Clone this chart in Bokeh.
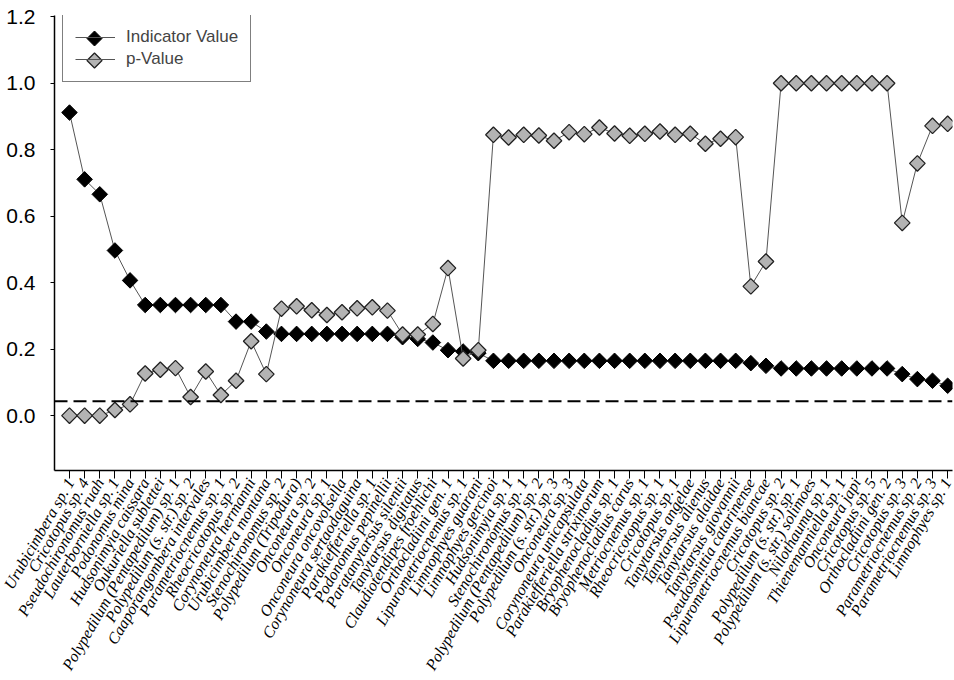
import math
from bokeh.plotting import figure
from bokeh.models import (ColumnDataSource, Range1d, FixedTicker, NumeralTickFormatter,
                          Span, Label, Legend, LegendItem, PolyAnnotation)
from bokeh.embed import file_html
from bokeh.resources import INLINE

taxa = [
    "Urubicimbera sp. 1", "Cricotopus sp. 4", "Pseudochironomus ruah", "Lauterborniella sp. 1",
    "Podonomus mina", "Hudsonimyia caissara", "Oukuriella sublettei",
    "Polypedilum (Pentapedilum) sp. 1", "Polypedilum (s. str.) sp. 2", "Caaporangombera intervales",
    "Parametriocnemus sp. 1", "Rheocricotopus sp. 2", "Corynoneura hermanni", "Urubicimbera montana",
    "Stenochironomus sp. 2", "Polypedilum (Tripodura)", "Onconeura sp. 2", "Onconeura sp. 1",
    "Onconeura oncovolsella", "Corynoneura sertaodaguina", "Parakiefferiella sp. 1",
    "Podonomus pepinellii", "Paratanytarsus silentii", "Tanytarsus digitatus",
    "Claudiotendipes froehlichi", "Orthocladiini gen. 1", "Lipurometriocnemus sp. 1",
    "Limnophyes guarani", "Limnophyes gercinoi", "Hudsonimyia sp. 1", "Stenochironomus sp. 1",
    "Polypedilum (Pentapedilum) sp. 2", "Polypedilum (s. str.) sp. 3", "Onconeura sp. 3",
    "Corynoneura unicapsulata", "Parakiefferiella strixinorum", "Bryophenocladius sp. 1",
    "Bryophenocladius carus", "Metriocnemus sp. 1", "Rheocricotopus sp. 1", "Cricotopus sp. 1",
    "Tanytarsus angelae", "Tanytarsus alienus", "Tanytarsus alaidae", "Tanytarsus giovannii",
    "Pseudosmittia catarinense", "Lipurometriocnemus biancae", "Cricotopus sp. 2",
    "Polypedilum (s. str.) sp. 1", "Polypedilum (s. str.) solimoes", "Nilothauma sp. 1",
    "Thienemanniella sp. 1", "Onconeura japi", "Cricotopus sp. 5", "Orthocladiini gen. 2",
    "Cricotopus sp. 3", "Parametriocnemus sp. 2", "Parametriocnemus sp. 3", "Limnophyes sp. 1",
]

indicator_value = [
    0.912, 0.711, 0.666, 0.497, 0.407, 0.333, 0.333, 0.333, 0.333, 0.333,
    0.333, 0.283, 0.283, 0.253, 0.246, 0.246, 0.246, 0.246, 0.246, 0.246,
    0.246, 0.246, 0.236, 0.231, 0.220, 0.197, 0.193, 0.188, 0.165, 0.165,
    0.165, 0.165, 0.165, 0.165, 0.165, 0.165, 0.165, 0.165, 0.165, 0.165,
    0.165, 0.165, 0.165, 0.165, 0.165, 0.158, 0.150, 0.142, 0.142, 0.142,
    0.142, 0.142, 0.142, 0.142, 0.142, 0.125, 0.110, 0.105, 0.090,
]

p_value = [
    0.0, 0.0, 0.0, 0.017, 0.034, 0.127, 0.138, 0.143, 0.056, 0.133,
    0.062, 0.105, 0.224, 0.125, 0.322, 0.329, 0.317, 0.303, 0.311, 0.323,
    0.326, 0.316, 0.244, 0.244, 0.276, 0.444, 0.172, 0.197, 0.845, 0.837,
    0.845, 0.843, 0.827, 0.853, 0.847, 0.867, 0.849, 0.842, 0.848, 0.855,
    0.845, 0.848, 0.818, 0.833, 0.838, 0.389, 0.464, 1.0, 1.0, 1.0,
    1.0, 1.0, 1.0, 1.0, 1.0, 0.580, 0.759, 0.872, 0.878,
]

series_labels = ["Indicator Value", "p-Value"]
y_ticks = [0.0, 0.2, 0.4, 0.6, 0.8, 1.0, 1.2]
threshold = 0.043
threshold_label = "0.05"
threshold_label_y = 0.09

IV_FILL, PV_FILL = "black", "#b3b3b3"
IV_EDGE, PV_EDGE = "black", "#222222"
LINE_COLOR = "#555555"

idx = list(range(len(taxa)))
src = ColumnDataSource(dict(x=idx, iv=indicator_value, pv=p_value))

p = figure(width=954, height=680, output_backend="svg", toolbar_location=None,
           x_range=Range1d(-0.99, 58.32), y_range=Range1d(-0.165, 1.204),
           min_border_left=54, min_border_top=15, min_border_right=2, min_border_bottom=207)
p.outline_line_color = None
p.grid.visible = False
p.background_fill_color = "white"
p.border_fill_color = "white"

p.add_layout(Span(location=threshold, dimension="width", line_color="black",
                  line_width=2, line_dash="13 6"))

l1 = p.line("x", "iv", source=src, line_color=LINE_COLOR, line_width=1)
s1 = p.scatter("x", "iv", source=src, marker="square", angle=math.pi / 4, size=11,
               fill_color=IV_FILL, line_color=IV_EDGE, line_width=1)
l2 = p.line("x", "pv", source=src, line_color=LINE_COLOR, line_width=1)
s2 = p.scatter("x", "pv", source=src, marker="square", angle=math.pi / 4, size=11,
               fill_color=PV_FILL, line_color=PV_EDGE, line_width=1.3)

xa = p.xaxis[0]
xa.ticker = FixedTicker(ticks=idx)
xa.major_label_overrides = {i: t for i, t in enumerate(taxa)}
xa.major_label_orientation = math.pi / 3
xa.major_label_text_font = "Liberation Serif"
xa.major_label_text_font_style = "italic"
xa.major_label_text_font_size = "16px"
xa.major_label_text_color = "black"
xa.major_tick_out = 8
xa.major_tick_in = 0
xa.minor_tick_line_color = None
xa.major_label_standoff = 1
xa.axis_line_color = "black"
xa.axis_line_width = 1.5
xa.major_tick_line_color = "black"

ya = p.yaxis[0]
ya.ticker = FixedTicker(ticks=y_ticks)
ya.formatter = NumeralTickFormatter(format="0.0")
ya.major_label_text_font = "Liberation Sans"
ya.major_label_text_font_size = "21px"
ya.major_label_text_color = "black"
ya.major_tick_out = 4
ya.major_tick_in = 0
ya.minor_tick_line_color = None
ya.major_label_standoff = 15
ya.axis_line_color = "black"
ya.axis_line_width = 1.5

p.add_layout(Label(x=-4.23, y=threshold_label_y, text=threshold_label, text_align="left",
                   text_baseline="middle", text_font="Liberation Sans",
                   text_font_size="21px", text_color="black"))

# legend diamonds drawn first (frame screen units), legend box transparent on top
LEG_X, LEG_Y = 8, 388
PAD, GW, GH, SP = 12, 40, 20, 2
leg_h = 2 * PAD + 2 * GH + SP
cx = LEG_X + PAD + GW / 2
centers = [LEG_Y + leg_h - PAD - GH / 2, LEG_Y + PAD + GH / 2]
R = 7.5
for cy, fc, lc, lw in [(centers[0], IV_FILL, IV_EDGE, 1.0), (centers[1], PV_FILL, PV_EDGE, 1.3)]:
    p.add_layout(PolyAnnotation(xs=[cx, cx + R, cx, cx - R], ys=[cy - R, cy, cy + R, cy],
                                xs_units="screen", ys_units="screen",
                                fill_color=fc, fill_alpha=1.0, line_color=lc, line_width=lw,
                                line_alpha=1.0))

legend = Legend(items=[LegendItem(label=series_labels[0], renderers=[l1]),
                       LegendItem(label=series_labels[1], renderers=[l2])],
                location=(LEG_X, LEG_Y))
legend.label_text_font = "Liberation Sans"
legend.label_text_font_size = "17px"
legend.glyph_width = GW
legend.glyph_height = GH
legend.label_height = GH
legend.label_standoff = 11
legend.spacing = SP
legend.padding = PAD
legend.margin = 0
legend.border_line_color = "black"
legend.border_line_width = 1
legend.background_fill_alpha = 0.0
p.add_layout(legend)

open("out.html", "w").write(file_html(p, INLINE))
